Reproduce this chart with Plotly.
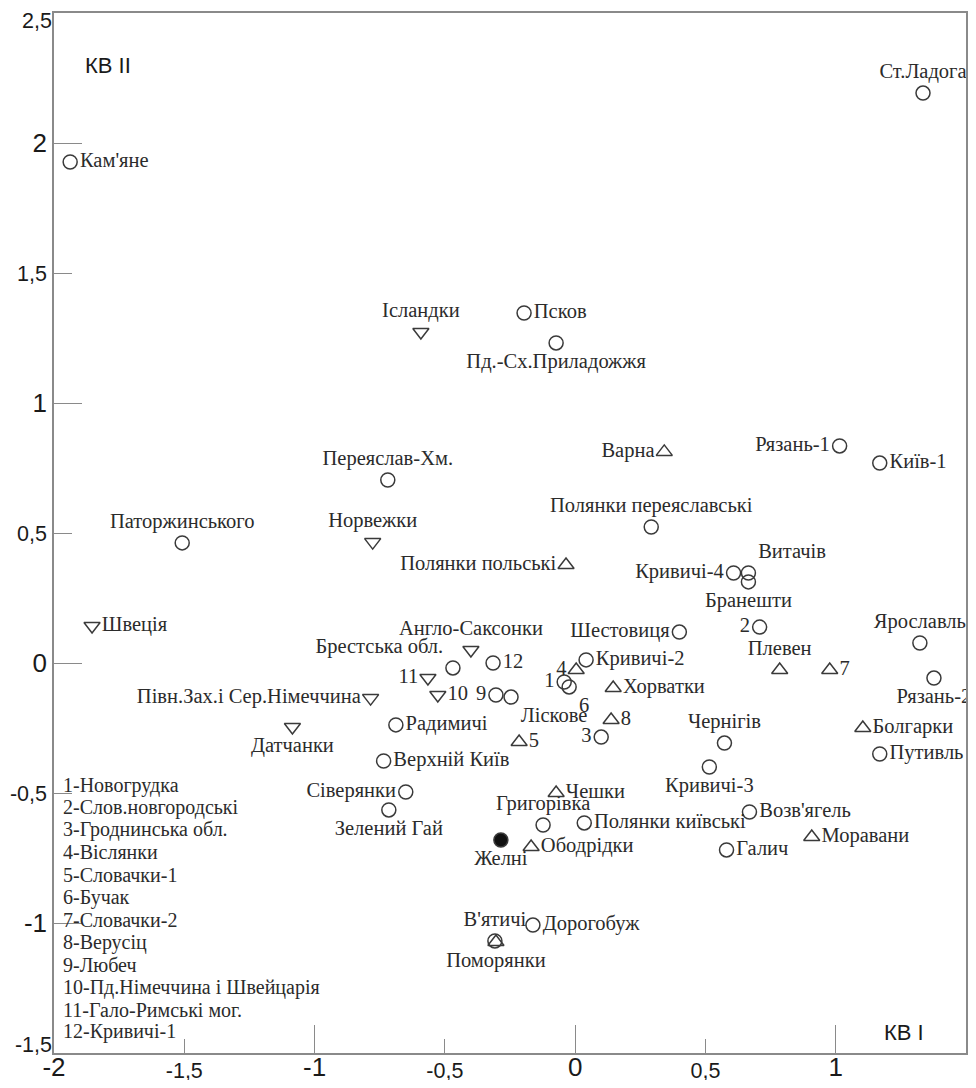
"""
Scatter of groups on KB I / KB II with point labels.
"""

import plotly.graph_objects as go

# open circles
CIRCLE_NAMES = [
    "Кам'яне", "Ст.Ладога", "Псков", "Пд.-Сх.Приладожжя", "Переяслав-Хм.",
    "Паторжинського", "Рязань-1", "Київ-1", "Полянки переяславські", "Кривичі-4",
    "Витачів", "Бранешти", "2", "Шестовиця", "Кривичі-2", "Ярославль", "Рязань-2",
    "Путивль", "Чернігів", "Кривичі-3", "Возв'ягель", "Галич", "Полянки київські",
    "Григорівка", "Верхній Київ", "Радимичі", "Сіверянки", "Зелений Гай",
    "Брестська обл.", "12", "9", "Ліскове", "1", "6", "3", "Дорогобуж", "В'ятичі",
]
CIRCLE_X = [
    -1.938, 1.335, -0.196, -0.073, -0.719,
    -1.508, 1.015, 1.169, 0.292, 0.608,
    0.665, 0.665, 0.708, 0.400, 0.042, 1.323, 1.377,
    1.169, 0.573, 0.515, 0.669, 0.581, 0.035,
    -0.123, -0.735, -0.688, -0.650, -0.715,
    -0.469, -0.315, -0.304, -0.246, -0.042, -0.023, 0.100, -0.162, -0.308,
]
CIRCLE_Y = [
    1.927, 2.192, 1.346, 1.231, 0.704,
    0.462, 0.835, 0.769, 0.523, 0.346,
    0.346, 0.312, 0.138, 0.119, 0.012, 0.077, -0.058,
    -0.350, -0.308, -0.400, -0.573, -0.719, -0.615,
    -0.623, -0.377, -0.238, -0.496, -0.565,
    -0.019, 0.000, -0.123, -0.131, -0.073, -0.092, -0.285, -1.008, -1.069,
]

# filled circle
FILLED_NAMES = ["Желні"]
FILLED_X = [-0.285]
FILLED_Y = [-0.681]

# triangles up
TRI_UP_NAMES = [
    "Варна", "Полянки польські", "4", "Хорватки", "8", "5", "Чешки",
    "Ободрідки", "Поморянки", "Плевен", "7", "Болгарки", "Моравани",
]
TRI_UP_X = [0.342, -0.035, 0.004, 0.146, 0.138, -0.215, -0.073,
            -0.169, -0.304, 0.785, 0.977, 1.104, 0.908]
TRI_UP_Y = [0.812, 0.377, -0.027, -0.096, -0.219, -0.304, -0.500,
            -0.708, -1.073, -0.027, -0.027, -0.250, -0.669]

# triangles down
TRI_DOWN_NAMES = [
    "Ісландки", "Норвежки", "Швеція", "Англо-Саксонки", "11", "10",
    "Півн.Зах.і Сер.Німеччина", "Датчанки",
]
TRI_DOWN_X = [-0.592, -0.777, -1.854, -0.400, -0.565, -0.527, -0.785, -1.085]
TRI_DOWN_Y = [1.273, 0.465, 0.142, 0.050, -0.058, -0.123, -0.135, -0.246]

KEY_LINES = [
    "1-Новогрудка", "2-Слов.новгородські", "3-Гроднинська обл.", "4-Віслянки",
    "5-Словачки-1", "6-Бучак", "7-Словачки-2", "8-Верусіц", "9-Любеч",
    "10-Пд.Німеччина і Швейцарія", "11-Гало-Римські мог.", "12-Кривичі-1",
]

X_HALF_TICKS = [-1.5, -0.5, 0.5, 1.5]
X_HALF_TEXT = ["-1,5", "-0,5", "0,5", "1,5"]
X_INT_TICKS = [-2, -1, 0, 1]
X_INT_TEXT = ["-2", "-1", "0", "1"]
Y_HALF_TICKS = [-0.5, 0.5, 1.5]
Y_HALF_TEXT = ["-0,5", "0,5", "1,5"]
Y_TOP_TICK, Y_TOP_TEXT = [2.5], ["2,5"]
Y_BOTTOM_TICK, Y_BOTTOM_TEXT = [-1.5], ["-1,5"]
Y_INT_TICKS = [-1, 0, 1, 2]
Y_INT_TEXT = ["-1", "0", "1", "2"]

# label placement (default: middle right)
LABEL_POS = {
    "Ст.Ладога": "top center", "Пд.-Сх.Приладожжя": "bottom center",
    "Переяслав-Хм.": "top center", "Паторжинського": "top center",
    "Рязань-1": "middle left", "Полянки переяславські": "top center",
    "Кривичі-4": "middle left", "Витачів": "top right", "Бранешти": "bottom center",
    "2": "middle left", "Шестовиця": "middle left", "Ярославль": "top center",
    "Рязань-2": "bottom center", "Чернігів": "top center", "Кривичі-3": "bottom center",
    "Григорівка": "top center", "Сіверянки": "middle left", "Зелений Гай": "bottom center",
    "Брестська обл.": "top left", "9": "middle left", "Ліскове": "bottom right",
    "1": "middle left", "6": "bottom right", "3": "middle left", "В'ятичі": "top center",
    "Желні": "bottom center",
    "Варна": "middle left", "Полянки польські": "middle left", "4": "middle left",
    "Поморянки": "bottom center", "Плевен": "top center",
    "Ісландки": "top center", "Норвежки": "top center", "Англо-Саксонки": "top center",
    "11": "middle left", "Півн.Зах.і Сер.Німеччина": "middle left",
    "Датчанки": "bottom center",
}

SERIF = "Liberation Serif, Times New Roman, serif"
SANS = "Liberation Sans, Arial, sans-serif"
LABEL_FONT = dict(family=SERIF, size=20.5, color="#2b2b2b")
MARK_LINE = dict(color="#3a3a3a", width=1.5)
AXIS_COLOR = "#8a8a8a"
X_RANGE = [-2, 1.5]
Y_RANGE = [-1.5, 2.5]


def add_group(fig, names, xs, ys, symbol, size, color="rgba(0,0,0,0)"):
    fig.add_trace(
        go.Scatter(
            x=xs, y=ys, mode="markers+text",
            text=names,
            textposition=[LABEL_POS.get(n, "middle right") for n in names],
            textfont=LABEL_FONT,
            marker=dict(symbol=symbol, size=size, color=color, line=MARK_LINE),
            cliponaxis=False, showlegend=False, hoverinfo="text",
        )
    )


def overlay_axis(rng, base, side, vals, text, font, ticklen=0, **extra):
    return dict(
        range=rng, overlaying=base, side=side, tickvals=vals, ticktext=text,
        ticks="inside", ticklen=ticklen, tickcolor=AXIS_COLOR, tickwidth=1.2,
        tickfont=font, automargin=False,
        showline=False, showgrid=False, zeroline=False, **extra,
    )


fig = go.Figure()
add_group(fig, CIRCLE_NAMES, CIRCLE_X, CIRCLE_Y, "circle", 14)
add_group(fig, TRI_UP_NAMES, TRI_UP_X, TRI_UP_Y, "triangle-up", 14)
add_group(fig, TRI_DOWN_NAMES, TRI_DOWN_X, TRI_DOWN_Y, "triangle-down", 14)
add_group(fig, FILLED_NAMES, FILLED_X, FILLED_Y, "circle", 14, color="#111111")

# empty traces so the overlay axes (long integer ticks, edge labels) get drawn
for ya in ("y2", "y3", "y4"):
    fig.add_trace(go.Scatter(x=[], y=[], xaxis="x2", yaxis=ya, showlegend=False))

tick_small = dict(family=SANS, size=21.5, color="#1a1a1a")
tick_big = dict(family=SANS, size=26, color="#1a1a1a")

# page body has an 8px margin; plot area sits at 54..966 x 13..1053 on the page
fig.update_layout(
    width=960, height=1072,
    margin=dict(l=46, r=2, t=5, b=27),
    paper_bgcolor="white", plot_bgcolor="white",
    xaxis=dict(
        range=X_RANGE, tickvals=X_HALF_TICKS, ticktext=X_HALF_TEXT,
        ticks="inside", ticklen=14, tickcolor=AXIS_COLOR, tickwidth=1.2,
        tickfont=tick_small, ticklabelstandoff=-3, automargin=False,
        showline=True, linecolor=AXIS_COLOR, linewidth=1.5, mirror=True,
        showgrid=False, zeroline=False,
    ),
    yaxis=dict(
        range=Y_RANGE, tickvals=Y_HALF_TICKS, ticktext=Y_HALF_TEXT,
        ticks="inside", ticklen=18, tickcolor=AXIS_COLOR, tickwidth=1.2,
        tickfont=tick_small, ticklabelstandoff=1, automargin=False,
        showline=True, linecolor=AXIS_COLOR, linewidth=1.5, mirror=True,
        showgrid=False, zeroline=False,
    ),
    xaxis2=overlay_axis(X_RANGE, "x", "bottom", X_INT_TICKS, X_INT_TEXT, tick_big,
                        ticklen=28, anchor="y", ticklabelstandoff=-4),
    yaxis2=overlay_axis(Y_RANGE, "y", "left", Y_INT_TICKS, Y_INT_TEXT, tick_big,
                        ticklen=28, anchor="x", ticklabelstandoff=6),
    yaxis3=overlay_axis(Y_RANGE, "y", "left", Y_TOP_TICK, Y_TOP_TEXT, tick_small,
                        anchor="x", ticklabelposition="outside bottom",
                        ticklabelstandoff=1, ticklabelshift=-8),
    yaxis4=overlay_axis(Y_RANGE, "y", "left", Y_BOTTOM_TICK, Y_BOTTOM_TEXT, tick_small,
                        anchor="x", ticklabelposition="outside top",
                        ticklabelstandoff=1, ticklabelshift=7),
)

axis_title_font = dict(family=SANS, size=22, color="#1a1a1a")
fig.add_annotation(text="КВ II", xref="paper", yref="paper", x=0.032, y=0.95,
                   xanchor="left", yanchor="middle", showarrow=False, font=axis_title_font)
fig.add_annotation(text="КВ I", xref="paper", yref="paper", x=0.908, y=0.02,
                   xanchor="left", yanchor="middle", showarrow=False, font=axis_title_font)

# numbered key, one line per annotation so the line spacing matches
key_font = dict(family=SERIF, size=20, color="#2b2b2b")
key_top = (1053 - 785) / 1040
key_step = 22.45 / 1040
for i, line in enumerate(KEY_LINES):
    fig.add_annotation(
        text=line, xref="paper", yref="paper", x=0.008, y=key_top - i * key_step,
        xanchor="left", yanchor="middle", align="left", showarrow=False, font=key_font,
    )

fig.write_html("out.html")
